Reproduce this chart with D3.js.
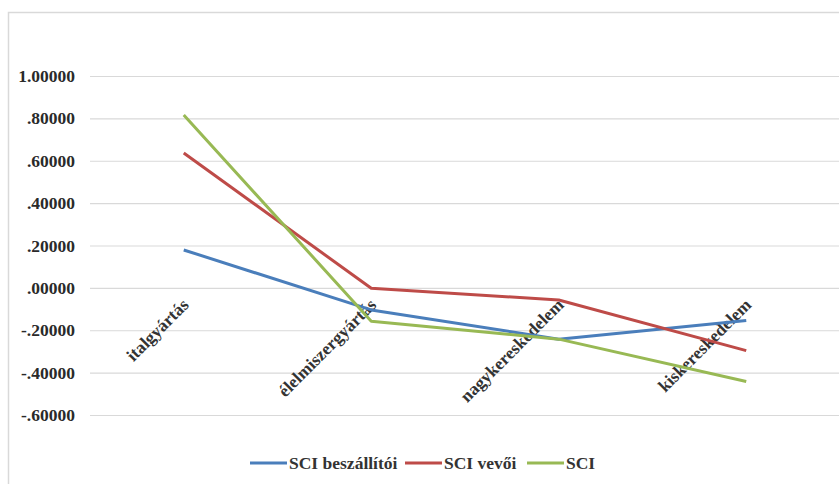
<!DOCTYPE html>
<html><head><meta charset="utf-8">
<script src="https://cdn.jsdelivr.net/npm/d3@7"></script>
<style>body{margin:0;background:#fff}svg{display:block}</style>
</head><body>
<svg id="c" width="839" height="484"></svg>
<script>
const categories = ["italgyártás", "élelmiszergyártás", "nagykereskedelem", "kiskereskedelem"];
const seriesNames = ["SCI beszállítói", "SCI vevői", "SCI"];
const sciBeszallitoi = [0.179, -0.104, -0.242, -0.154];
const sciVevoi = [0.637, -0.002, -0.057, -0.296];
const sci = [0.816, -0.157, -0.242, -0.442];
const yTicks = [1.0, 0.8, 0.6, 0.4, 0.2, 0.0, -0.2, -0.4, -0.6];
const colors = ["#4A7EBB", "#BE4B48", "#98B954"];

const svg = d3.select("#c");
const font = "'Liberation Serif', 'Times New Roman', serif";
const fs = 17.5;

// chart border
svg.append("rect").attr("x", 8.5).attr("y", 12.5).attr("width", 840).attr("height", 480)
  .attr("fill", "#fff").attr("stroke", "#d9d9d9").attr("stroke-width", 1.5);

const x = d3.scaleBand().domain(categories).range([90, 840]);
const y = d3.scaleLinear().domain([-0.6, 1.0]).range([415, 76]);

const fmt = v => {
  let s = Math.abs(v).toFixed(5);
  if (s.startsWith("0")) s = s.slice(1);
  return (v < 0 ? "-" : "") + s;
};

// grid + y axis
const yAxis = d3.axisLeft(y).tickValues(yTicks).tickFormat(fmt).tickSize(-(840 - 90)).tickPadding(15);
const gy = svg.append("g").attr("transform", "translate(90,0)").call(yAxis);
gy.select(".domain").remove();
gy.selectAll(".tick line").attr("stroke", "#d9d9d9").attr("stroke-width", 1.2);
gy.selectAll(".tick text").attr("font-family", font).attr("font-weight", "bold")
  .attr("font-size", fs).attr("fill", "#2a2a2a");

// category labels
svg.append("g").selectAll("text").data(categories).join("text")
  .attr("transform", d => `translate(${x(d) + x.bandwidth() / 2 + 6},${y(0) + 18}) rotate(-45)`)
  .attr("text-anchor", "end")
  .attr("font-family", font).attr("font-weight", "bold").attr("font-size", fs).attr("fill", "#333")
  .text(d => d);

// lines
const allSeries = [sciBeszallitoi, sciVevoi, sci];
const line = d3.line().x((d, i) => x(categories[i]) + x.bandwidth() / 2).y(d => y(d));
svg.append("g").selectAll("path").data(allSeries).join("path")
  .attr("d", d => line(d)).attr("fill", "none")
  .attr("stroke", (d, i) => colors[i]).attr("stroke-width", 3).attr("stroke-linejoin", "round");

// legend
const legendStarts = [250, 405, 527];
const lg = svg.append("g");
seriesNames.forEach((n, i) => {
  const g = lg.append("g").attr("transform", `translate(${legendStarts[i]},463)`);
  g.append("line").attr("x1", 0).attr("x2", 37).attr("y1", 0).attr("y2", 0)
    .attr("stroke", colors[i]).attr("stroke-width", 3);
  g.append("text").attr("x", 39).attr("y", 6).attr("font-family", font).attr("font-weight", "bold")
    .attr("font-size", fs).attr("fill", "#333").text(n);
});
</script>
</body></html>
